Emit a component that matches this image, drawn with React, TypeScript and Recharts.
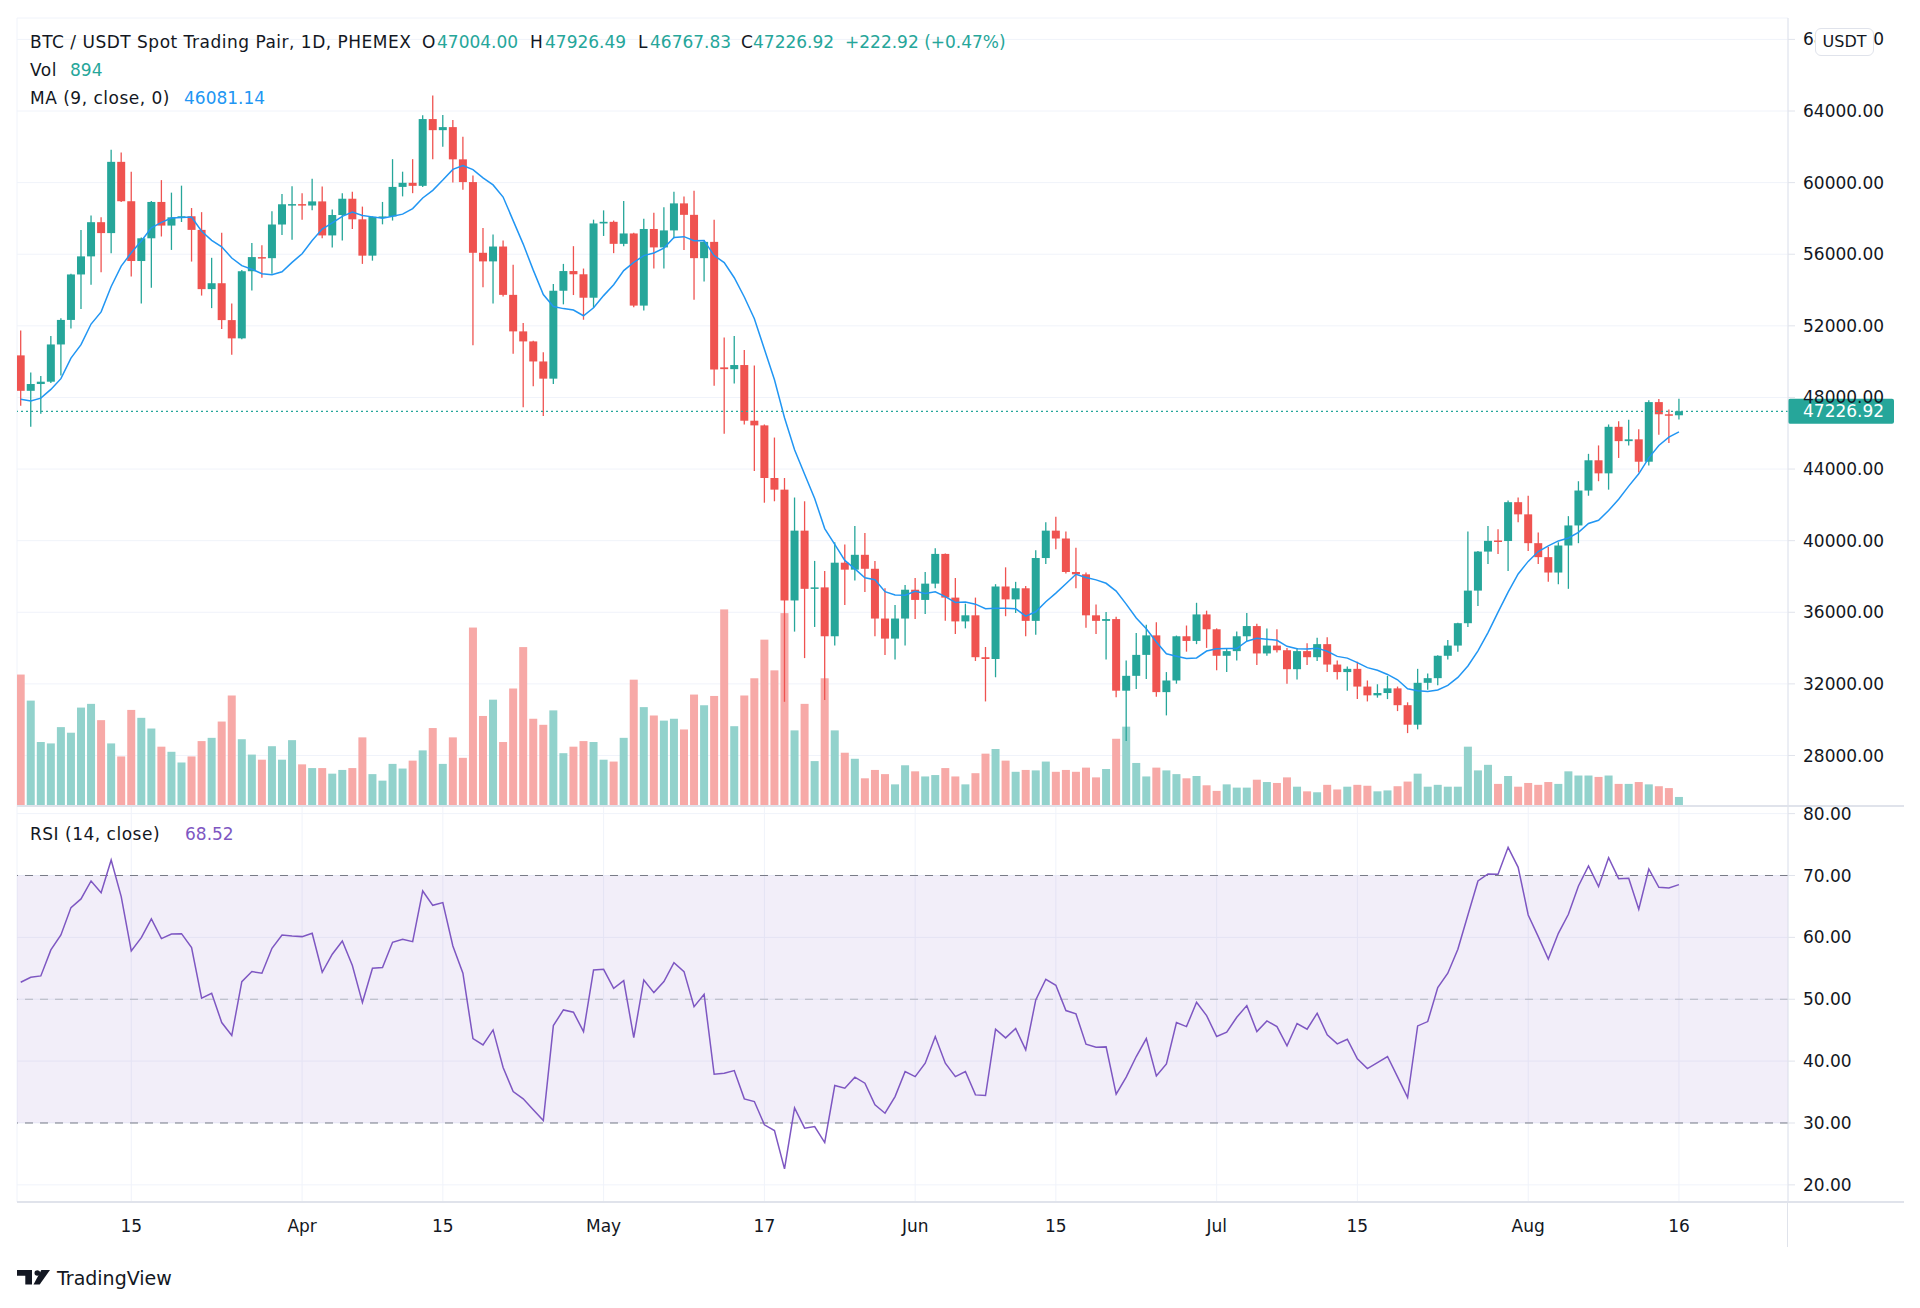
import React from "react";
import {
  ComposedChart, Bar, Line, XAxis, YAxis, CartesianGrid,
  ReferenceLine, ReferenceArea,
} from "recharts";

// BTC/USDT daily, Mar 4 -> Aug 16 2021 (index 0 = Mar 4)
const opens = [
  50350, 48370, 48750, 48880, 50960, 52330, 54870, 55880, 57790, 57180,
  61160, 58960, 55620, 56890, 58920, 57600, 58060, 58120, 57360, 54050,
  54380, 52320, 51300, 55050, 55840, 55780, 57660, 58790, 58800, 58720,
  58950, 57050, 58190, 59100, 57950, 55920, 58090, 58110, 59760, 59990,
  59820, 63550, 62930, 63100, 61300, 60030, 56080, 55600, 56430, 53730,
  51690, 51130, 50010, 49050, 53960, 55060, 54880, 53570, 57720, 57810,
  56580, 57160, 53130, 57410, 56380, 57330, 58840, 58200, 55780, 56690,
  49680, 49580, 49810, 46700, 46440, 43500, 42850, 36660, 40560, 37310,
  37390, 34660, 38770, 38380, 39210, 38430, 35650, 34530, 35650, 37260,
  36690, 37600, 39260, 36820, 35490, 35830, 33490, 33390, 37440, 36720,
  37340, 35520, 39030, 40560, 40120, 38250, 38120, 35830, 35520, 35620,
  31620, 32450, 33620, 34710, 31540, 32190, 34660, 34400, 35880, 35050,
  33570, 33830, 34660, 35230, 33700, 34140, 33880, 32820, 33830, 33490,
  34220, 33080, 32660, 32840, 31850, 31360, 31490, 31750, 30810, 29720,
  32060, 32320, 33570, 34140, 35390, 37210, 39390, 40010, 39980, 42150,
  41470, 39860, 39080, 38220, 39730, 40850, 42800, 44490, 43760, 46360,
  45560, 45660, 44410, 47740, 47060, 47004,
];
const highs = [
  51740, 49400, 49200, 51430, 52420, 54910, 57360, 58160, 58060, 61830,
  61680, 60610, 56940, 58970, 60140, 59440, 59830, 58580, 58350, 55800,
  57200, 53250, 55120, 56630, 56500, 58400, 59360, 59800, 59410, 60220,
  59780, 58500, 59410, 59490, 58660, 58110, 58920, 61310, 60610, 61310,
  63760, 64870, 63780, 63500, 62560, 60400, 57460, 57100, 56760, 55410,
  52160, 51170, 50520, 54340, 55460, 56450, 55200, 57930, 58450, 57880,
  58970, 57200, 57980, 58320, 58630, 59490, 59230, 59540, 56760, 57930,
  51350, 51430, 50650, 49790, 46490, 45760, 43500, 42410, 42200, 38870,
  38300, 39910, 39780, 40820, 40430, 38870, 37340, 36400, 37520, 37910,
  38250, 39580, 39290, 37910, 36480, 36820, 34060, 37570, 38510, 37700,
  37470, 39470, 41030, 41340, 40510, 39600, 38220, 36430, 36010, 35750,
  33310, 34840, 35310, 35440, 32660, 34700, 35260, 36530, 36090, 35100,
  34010, 34920, 35960, 35360, 35100, 35050, 34010, 34010, 34270, 34580,
  34610, 33310, 32970, 33230, 32190, 31980, 32450, 31850, 30970, 32840,
  32580, 33600, 34450, 35420, 40510, 39420, 40820, 40640, 42250, 42410,
  42510, 40460, 39650, 39910, 41370, 43320, 44850, 45320, 46490, 46670,
  46750, 46230, 47840, 47920, 47320, 47926.49,
];
const lows = [
  47530, 46360, 47090, 48800, 49220, 51850, 52940, 54290, 54990, 56060,
  58920, 54760, 53250, 54130, 56990, 56240, 57800, 55590, 53690, 52990,
  51820, 50390, 51250, 53980, 54680, 54910, 57070, 56810, 57930, 58450,
  56890, 56370, 56760, 57410, 55460, 55640, 57670, 57880, 59230, 59410,
  59750, 61310, 62010, 60010, 59600, 50910, 54160, 53250, 53640, 50440,
  47450, 48620, 46960, 48750, 53200, 53720, 52340, 53000, 57020, 56060,
  56450, 53040, 52860, 55200, 55200, 56890, 56240, 53460, 54470, 48650,
  45970, 48780, 46490, 43890, 42120, 42200, 31000, 34920, 33440, 35180,
  31100, 34140, 36400, 37780, 37130, 34660, 33620, 33360, 34140, 35620,
  35910, 37340, 35520, 34790, 35100, 33280, 31020, 32370, 35780, 35960,
  34660, 34740, 38690, 39520, 38170, 37340, 35130, 34790, 33360, 31260,
  28810, 31720, 32270, 31280, 30240, 32010, 33800, 34220, 34010, 32760,
  32660, 33310, 34400, 33050, 33570, 33750, 32010, 32240, 33050, 33280,
  32660, 32240, 31620, 31150, 31020, 31230, 31150, 30480, 29250, 29460,
  31670, 31930, 33360, 33800, 35180, 36350, 38690, 39260, 38300, 41030,
  39420, 38690, 37700, 37570, 37310, 39860, 42510, 43320, 42850, 44620,
  45320, 43810, 44200, 45920, 45450, 46767.83,
];
const closes = [
  48370, 48750, 48880, 50960, 52330, 54870, 55880, 57790, 57180, 61160,
  58960, 55620, 56890, 58920, 57600, 58060, 58120, 57360, 54050, 54380,
  52320, 51300, 55050, 55840, 55780, 57660, 58790, 58800, 58720, 58950,
  57050, 58190, 59100, 57950, 55920, 58090, 58110, 59760, 59990, 59820,
  63550, 62930, 63100, 61300, 60030, 56080, 55600, 56430, 53730, 51690,
  51130, 50010, 49050, 53960, 55060, 54880, 53570, 57720, 57810, 56580,
  57160, 53130, 57410, 56380, 57330, 58840, 58200, 55780, 56690, 49560,
  49580, 49810, 46700, 46440, 43500, 42850, 36660, 40560, 37310, 37390,
  34660, 38770, 38380, 39210, 38430, 35650, 34530, 35650, 37260, 36690,
  37600, 39260, 36820, 35490, 35830, 33490, 33390, 37440, 36720, 37340,
  35520, 39030, 40560, 40120, 38250, 38120, 35830, 35520, 35620, 31620,
  32450, 33620, 34710, 31540, 32190, 34660, 34400, 35880, 35050, 33570,
  33830, 34660, 35230, 33700, 34140, 33880, 32820, 33830, 33490, 34220,
  33080, 32660, 32840, 31850, 31360, 31490, 31750, 30810, 29720, 32060,
  32320, 33570, 34140, 35390, 37210, 39390, 39990, 39980, 42150, 41470,
  39860, 39080, 38220, 39730, 40850, 42800, 44490, 43760, 46360, 45560,
  45660, 44410, 47740, 47060, 47004, 47226.92,
];
const volumes = [
  12995, 10419, 6325, 6187, 7797, 7245, 9729, 10097, 8487, 6187,
  4899, 9499, 8717, 7659, 5865, 5359, 4301, 4899, 6417, 6739,
  8349, 10925, 6601, 5083, 4577, 5911, 4577, 6509, 4117, 3749,
  3749, 3197, 3565, 3749, 6785, 3151, 2507, 4163, 3703, 4485,
  5497, 7705, 4163, 6785, 4761, 17641, 8901, 10511, 6325, 11615,
  15709, 8625, 8027, 9453, 5221, 5865, 6417, 6325, 4577, 4393,
  6739, 12489, 9775, 8947, 8441, 8625, 7567, 11017, 9959, 10879,
  19435, 7889, 10925, 12627, 16445, 13409, 19067, 7475, 10097, 4439,
  12627, 7475, 5267, 4669, 2737, 3565, 3151, 2139, 4025, 3427,
  2921, 3059, 3749, 2921, 2139, 3243, 5175, 5635, 4485, 3381,
  3565, 3519, 4393, 3381, 3565, 3381, 3795, 2829, 3657, 6647,
  7843, 4255, 2921, 3795, 3519, 3151, 2737, 2967, 2047, 1495,
  2139, 1817, 1817, 2599, 2369, 2277, 2829, 1909, 1449, 1357,
  2093, 1633, 1909, 2093, 2001, 1449, 1541, 1955, 2415, 3197,
  1909, 2093, 1909, 1909, 5865, 3519, 4071, 2185, 2967, 1909,
  2277, 2093, 2369, 2185, 3427, 3013, 3013, 2875, 3013, 2185,
  2185, 2369, 2139, 1955, 1771, 894,
];
const ma9 = [
  47900, 47800, 47960, 48450, 49050, 50200, 50950, 52100, 52779, 54200,
  55334, 56083, 56742, 57474, 57778, 58020, 58057, 58077, 57287, 56778,
  56411, 55790, 55360, 55164, 54911, 54860, 55019, 55547, 56029, 56766,
  57404, 57753, 58116, 58357, 58163, 58086, 58009, 58124, 58240, 58548,
  59143, 59569, 60141, 60739, 60954, 60729, 60267, 59871, 59194, 57877,
  56566, 55111, 53750, 53076, 52962, 52882, 52564, 53008, 53688, 54293,
  55088, 55541, 55924, 56071, 56343, 56929, 56982, 56757, 56769, 55924,
  55530, 54686, 53610, 52400, 50696, 48990, 46866, 45073, 43712, 42358,
  40674, 39793, 38898, 38421, 37930, 37818, 37148, 36963, 36949, 37174,
  37044, 37142, 36877, 36550, 36570, 36454, 36203, 36223, 36227, 36198,
  35782, 36028, 36591, 37068, 37597, 38122, 37943, 37810, 37619, 37186,
  36454, 35683, 35082, 34337, 33678, 33548, 33423, 33452, 33833, 33958,
  33981, 33976, 34386, 34553, 34496, 34438, 34098, 33962, 33953, 33997,
  33821, 33536, 33440, 33186, 32906, 32758, 32527, 32229, 31729, 31616,
  31578, 31659, 31913, 32361, 32997, 33846, 34866, 36006, 37127, 38143,
  38842, 39391, 39706, 39986, 40148, 40460, 40961, 41140, 41683, 42317,
  43048, 43736, 44626, 45316, 45783, 46081.14,
];
const rsi14 = [
  52.75, 53.55, 53.77, 57.97, 60.39, 64.81, 66.21, 69.11, 67.23, 72.51,
  66.58, 57.81, 59.96, 62.98, 59.8, 60.55, 60.6, 58.34, 50.16, 50.97,
  46.23, 44.13, 52.85, 54.47, 54.2, 58.24, 60.39, 60.23, 60.12, 60.66,
  54.36, 57.27, 59.42, 55.44, 49.46, 55.0, 55.11, 59.21, 59.69, 59.31,
  67.5, 65.18, 65.61, 58.61, 54.2, 43.64, 42.62, 45.04, 38.96, 35.08,
  33.9, 32.12, 30.4, 45.74, 48.27, 47.9, 44.77, 54.74, 54.84, 51.77,
  53.01, 43.8, 53.12, 51.07, 52.85, 55.92, 54.47, 48.81, 50.81, 37.88,
  38.04, 38.47, 33.9, 33.47, 29.7, 28.78, 22.59, 32.44, 29.16, 29.43,
  26.84, 36.05, 35.62, 37.4, 36.43, 32.93, 31.58, 34.27, 38.31, 37.5,
  39.66, 43.97, 39.66, 37.5, 38.31, 34.54, 34.43, 45.15, 43.75, 45.26,
  41.81, 49.89, 53.23, 52.26, 48.17, 47.63, 42.73, 42.24, 42.3, 34.65,
  37.4, 40.74, 43.64, 37.61, 39.55, 46.23, 45.58, 49.51, 47.36, 43.97,
  44.67, 47.09, 48.97, 44.77, 46.5, 45.58, 42.46, 46.07, 45.15, 47.74,
  44.24, 42.78, 43.54, 40.36, 38.8, 39.77, 40.74, 37.45, 34.11, 45.69,
  46.39, 51.88, 54.2, 58.08, 63.62, 69.11, 70.25, 70.19, 74.55, 71.32,
  63.62, 60.12, 56.51, 60.66, 63.73, 68.31, 71.54, 68.2, 72.88, 69.49,
  69.55, 64.54, 71.05, 68.09, 67.98, 68.52,
];

const dateTicks = [11, 28, 42, 58, 74, 89, 103, 119, 133, 150, 165];
const dateLabels = ["15", "Apr", "15", "May", "17", "Jun", "15", "Jul", "15", "Aug", "16"];
const priceTicks = [28000, 32000, 36000, 40000, 44000, 48000, 52000, 56000, 60000, 64000, 68000];
const rsiTicks = [20, 30, 40, 50, 60, 70, 80];

const rows = closes.map((close, i) => ({
  i,
  open: opens[i],
  high: highs[i],
  low: lows[i],
  close,
  vol: volumes[i],
  ma: ma9[i],
  rsi: rsi14[i],
}));

const UP = "#26a69a";
const DOWN = "#ef5350";
const UP_VOL = "#92d2cc";
const DOWN_VOL = "#f7a9a7";
const MA_COLOR = "#2196f3";
const RSI_COLOR = "#7e57c2";
const GRID = "#f0f3fa";
const BORDER = "#e0e3eb";
const TEXT = "#131722";
const FONT = "'DejaVu Sans', Verdana, sans-serif";

const X_DOMAIN: [number, number] = [-0.37, 175.85];
const PRICE_DOMAIN: [number, number] = [25179, 69195];
const RSI_DOMAIN: [number, number] = [17.23, 81.23];
const VOL_MAX = 77900;

const last = rows[rows.length - 1];
const prevClose = closes[closes.length - 2];
const change = last.close - prevClose;
const changePct = (change / prevClose) * 100;

const tickStyle = { fontSize: 17, fill: TEXT, fontFamily: FONT };

function Candle(props: any) {
  const { x, y, width, height, payload } = props;
  if (x == null || y == null || !payload) return null;
  const top = Math.min(y, y + height);
  const h = Math.abs(height);
  const { open, close, high, low } = payload;
  const color = close >= open ? UP : DOWN;
  const span = high - low || 1;
  const yOf = (v: number) => top + ((high - v) / span) * h;
  const cx = x + width / 2;
  const bTop = yOf(Math.max(open, close));
  const bBot = yOf(Math.min(open, close));
  return (
    <g>
      <line x1={cx} x2={cx} y1={top} y2={top + h} stroke={color} strokeWidth={1.3} />
      <rect x={x} y={bTop} width={width} height={Math.max(bBot - bTop, 1.5)} fill={color} />
    </g>
  );
}

function VolumeBar(props: any) {
  const { x, y, width, height, payload } = props;
  if (x == null || y == null || !payload) return null;
  const fill = payload.close >= payload.open ? UP_VOL : DOWN_VOL;
  return <rect x={x} y={Math.min(y, y + height)} width={width} height={Math.abs(height)} fill={fill} />;
}

function LastPriceLabel(props: any) {
  const { viewBox } = props;
  if (!viewBox) return null;
  const right = viewBox.x + viewBox.width;
  const yc = viewBox.y;
  return (
    <g>
      <rect x={right} y={yc - 12.5} width={106} height={25} rx={2} fill={UP} />
      <text x={right + 15} y={yc} dy="0.36em" fill="#fff" fontSize={17} fontFamily={FONT}>
        {last.close.toFixed(2)}
      </text>
    </g>
  );
}

const abs = (left: number, top: number, extra: React.CSSProperties = {}): React.CSSProperties => ({
  position: "absolute",
  left,
  top,
  lineHeight: "24px",
  fontSize: 17,
  whiteSpace: "nowrap",
  transform: "translateY(-50%)",
  ...extra,
});

const spaced = { letterSpacing: "0.5px" };

export default function App() {
  return (
    <div style={{
      position: "absolute", left: 0, top: 0, width: 1920, height: 1308,
      background: "#fff", fontFamily: FONT, color: TEXT, overflow: "hidden",
    }}>
      <div style={{ position: "absolute", left: 0, top: 0 }}>
        <ComposedChart width={1920} height={806} data={rows} margin={{ top: 18, right: 0, bottom: 0, left: 17 }}>
          <CartesianGrid stroke={GRID} xAxisId="x" yAxisId="price" />
          <XAxis
            xAxisId="x" dataKey="i" type="number" domain={X_DOMAIN} allowDataOverflow
            ticks={dateTicks} interval={0} height={0} tick={false} tickLine={false} axisLine={false}
          />
          <XAxis xAxisId="vx" dataKey="i" type="number" domain={X_DOMAIN} allowDataOverflow hide />
          <YAxis
            yAxisId="price" orientation="right" width={132} domain={PRICE_DOMAIN} allowDataOverflow
            ticks={priceTicks} interval={0} tickFormatter={(v: number) => v.toFixed(2)}
            tick={tickStyle} tickSize={7} tickMargin={8}
            tickLine={{ stroke: BORDER }} axisLine={{ stroke: BORDER }}
          />
          <YAxis yAxisId="vol" domain={[0, VOL_MAX]} allowDataOverflow hide />
          <Bar xAxisId="vx" yAxisId="vol" dataKey="vol" barSize={8} shape={<VolumeBar />} isAnimationActive={false} />
          <Bar
            xAxisId="x" yAxisId="price" dataKey={(d: any) => [d.low, d.high]}
            barSize={8} shape={<Candle />} isAnimationActive={false}
          />
          <Line
            xAxisId="x" yAxisId="price" dataKey="ma" stroke={MA_COLOR} strokeWidth={1.5}
            dot={false} activeDot={false} isAnimationActive={false}
          />
          <ReferenceLine
            xAxisId="x" yAxisId="price" y={last.close} stroke={UP} strokeWidth={1.2} strokeDasharray="2 3"
            label={<LastPriceLabel />}
          />
        </ComposedChart>
      </div>

      <div style={{ position: "absolute", left: 0, top: 786 }}>
        <ComposedChart width={1920} height={480} data={rows} margin={{ top: 20, right: 0, bottom: 0, left: 17 }}>
          <CartesianGrid stroke={GRID} />
          <ReferenceArea y1={30} y2={70} fill={RSI_COLOR} fillOpacity={0.1} stroke="none" />
          <XAxis
            dataKey="i" type="number" domain={X_DOMAIN} allowDataOverflow
            ticks={dateTicks} interval={0} height={64}
            tickFormatter={(v: number) => dateLabels[dateTicks.indexOf(v)] ?? ""}
            tick={tickStyle} tickSize={0} tickMargin={18} axisLine={false} tickLine={false}
          />
          <YAxis
            orientation="right" width={132} domain={RSI_DOMAIN} allowDataOverflow
            ticks={rsiTicks} interval={0} tickFormatter={(v: number) => v.toFixed(2)}
            tick={tickStyle} tickSize={7} tickMargin={8}
            tickLine={{ stroke: BORDER }} axisLine={{ stroke: BORDER }}
          />
          <ReferenceLine y={70} stroke="#787b86" strokeDasharray="8 7" />
          <ReferenceLine y={50} stroke="#b2b5be" strokeDasharray="8 7" />
          <ReferenceLine y={30} stroke="#787b86" strokeDasharray="8 7" />
          <Line
            dataKey="rsi" stroke={RSI_COLOR} strokeWidth={1.5}
            dot={false} activeDot={false} isAnimationActive={false}
          />
        </ComposedChart>
      </div>

      {/* pane borders */}
      <div style={{ position: "absolute", left: 17, top: 805, width: 1887, height: 2, background: BORDER }} />
      <div style={{ position: "absolute", left: 17, top: 1201, width: 1887, height: 2, background: BORDER }} />
      <div style={{ position: "absolute", left: 1787, top: 1202, width: 1, height: 45, background: BORDER }} />

      {/* legend rows */}
      <div style={abs(30, 42, spaced)}>BTC / USDT Spot Trading Pair, 1D, PHEMEX</div>
      <div style={abs(422, 42)}>O</div>
      <div style={abs(437, 42, { color: UP })}>{last.open.toFixed(2)}</div>
      <div style={abs(530, 42)}>H</div>
      <div style={abs(545, 42, { color: UP })}>{last.high.toFixed(2)}</div>
      <div style={abs(638, 42)}>L</div>
      <div style={abs(650, 42, { color: UP })}>{last.low.toFixed(2)}</div>
      <div style={abs(741, 42)}>C</div>
      <div style={abs(753, 42, { color: UP })}>{last.close.toFixed(2)}</div>
      <div style={abs(845, 42, { color: UP })}>
        {`+${change.toFixed(2)} (+${changePct.toFixed(2)}%)`}
      </div>
      <div style={abs(30, 70, spaced)}>Vol</div>
      <div style={abs(70, 70, { color: UP })}>{last.vol}</div>
      <div style={abs(30, 98, spaced)}>MA (9, close, 0)</div>
      <div style={abs(184, 98, { color: MA_COLOR })}>{last.ma.toFixed(2)}</div>
      <div style={abs(30, 834, spaced)}>RSI (14, close)</div>
      <div style={abs(185, 834, { color: RSI_COLOR })}>{last.rsi.toFixed(2)}</div>

      {/* currency badge */}
      <div style={{
        position: "absolute", left: 1815, top: 28, width: 59, height: 28, boxSizing: "border-box",
        border: `1px solid ${BORDER}`, borderRadius: 6, background: "#fff",
        fontSize: 16, lineHeight: "26px", textAlign: "center",
      }}>USDT</div>

      {/* watermark */}
      <svg style={{ position: "absolute", left: 17, top: 1266 }} width={170} height={24}>
        <g transform="translate(0,4)">
          <path d="M0 0H15V14.5H8.3V5.7H0Z" fill={TEXT} />
          <circle cx={20.3} cy={3} r={2.8} fill={TEXT} />
          <path d="M24.3 0H33L22.7 14.5H16.5Z" fill={TEXT} />
        </g>
        <text x={40} y={18.7} fontSize={19} fontFamily={FONT} fill={TEXT}>TradingView</text>
      </svg>
    </div>
  );
}
